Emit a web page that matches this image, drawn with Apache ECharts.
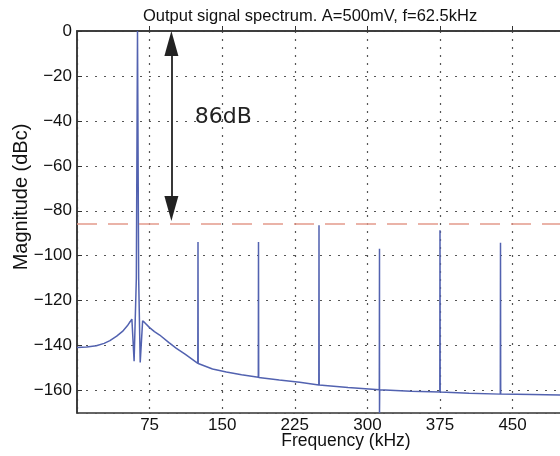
<!DOCTYPE html>
<html>
<head>
<meta charset="utf-8">
<script src="https://cdn.jsdelivr.net/npm/echarts@6/dist/echarts.min.js"></script>
<style>
html,body{margin:0;padding:0;background:#fff;}
#chart{width:560px;height:456px;}
</style>
</head>
<body>
<div id="chart"></div>
<script>
const chartTitle = 'Output signal spectrum. A=500mV, f=62.5kHz';
const xName = 'Frequency (kHz)';
const yName = 'Magnitude (dBc)';
const xTickStep = 75;
const yRange = [-170, 0];
const xRange = [0, 500];

// spectrum (frequency in kHz, magnitude in dBc)
const freqKHz = [0, 10, 20, 28, 34, 41, 47, 52, 55, 56.7, 59.0, 61.3, 62.5, 63.7, 65.3, 67.8, 70, 75, 80, 85.4, 95, 102.7, 112, 124.8, 125, 125.2, 140, 154.3, 170, 187.3, 187.5, 187.7, 209, 230, 249.8, 250, 250.2, 280, 312.3, 312.5, 312.5, 312.7, 345, 374.8, 375, 375.2, 405, 437.3, 437.5, 437.7, 470, 500];
const magDBc  = [-140.8, -140.6, -140.1, -139.0, -137.8, -135.8, -133.7, -131.2, -129.3, -128.2, -147.0, -110, 0, -110, -147.5, -129.0, -129.8, -132.0, -133.8, -135.3, -138.7, -141.2, -143.9, -147.9, -93.9, -148.0, -150.4, -151.8, -153.0, -154.1, -93.9, -154.2, -155.3, -156.3, -157.5, -86.5, -157.5, -158.7, -159.7, -96.9, -170, -159.7, -160.3, -160.7, -88.7, -160.7, -161.2, -161.6, -94.2, -161.6, -161.8, -162.0];

// annotation values
const sfdrLevel = -86;
const arrowFreq = 97.5;
const arrowEnds = [-5.6, -79.0];
const sfdrText = '86dB';
const sfdrTextPos = [121.6, -38.3];

const seriesData = freqKHz.map((f, i) => [f, magDBc[i]]);
const minus = s => String(s).replace('-', '\u2212');

const chart = echarts.init(document.getElementById('chart'), null, {renderer: 'canvas'});
chart.setOption({
  animation: false,
  backgroundColor: '#ffffff',
  title: {
    text: chartTitle,
    left: 143, top: 8, padding: 0,
    textStyle: {fontFamily: 'Liberation Sans', fontSize: 16.5, fontWeight: 'normal', color: '#111'}
  },
  grid: {
    left: 77, top: 31, width: 484, height: 382,
    show: true, borderColor: '#333', borderWidth: 1.5, backgroundColor: 'transparent',
    outerBoundsMode: 'none', containLabel: false
  },
  xAxis: {
    type: 'value', min: xRange[0], max: xRange[1], interval: xTickStep,
    name: xName, nameLocation: 'middle', nameGap: 19, nameMoveOverlap: false,
    nameTextStyle: {fontFamily: 'Liberation Sans', fontSize: 17.5, color: '#111', padding: [0, 0, 0, 54]},
    axisLine: {show: true, lineStyle: {color: '#333', width: 1.5}},
    axisTick: {show: true, inside: true, length: 5, lineStyle: {color: '#333'}},
    axisLabel: {showMinLabel: false, showMaxLabel: false, margin: 4, fontFamily: 'Liberation Sans', fontSize: 17, color: '#111'},
    splitLine: {show: true, lineStyle: {color: '#555', width: 1.2, type: [2, 6]}}
  },
  yAxis: {
    type: 'value', min: yRange[0], max: yRange[1], splitNumber: 9,
    name: yName, nameLocation: 'middle', nameGap: 46, nameMoveOverlap: false,
    nameTextStyle: {fontFamily: 'Liberation Sans', fontSize: 20, color: '#111', padding: [0, 0, 0, 50]},
    axisLine: {show: true, lineStyle: {color: '#333', width: 1.5}},
    axisTick: {show: true, inside: true, length: 5, lineStyle: {color: '#333'}},
    axisLabel: {showMinLabel: false, margin: 5, fontFamily: 'Liberation Sans', fontSize: 17, color: '#111',
      formatter: v => v === yRange[0] ? '' : minus(v)},
    splitLine: {show: true, lineStyle: {color: '#555', width: 1.2, type: [2, 7]}}
  },
  series: [{
    type: 'line',
    data: seriesData,
    showSymbol: false,
    symbol: 'none',
    clip: true,
    lineStyle: {color: '#5262b0', width: 1.5},
    markLine: {
      silent: true,
      animation: false,
      symbol: ['none', 'none'],
      label: {show: false},
      data: [
        [{coord: [arrowFreq, arrowEnds[0]], symbol: 'triangle', symbolSize: [14, 25],
          lineStyle: {color: '#222', width: 1.8, type: 'solid'}},
         {coord: [arrowFreq, arrowEnds[1]], symbol: 'triangle', symbolSize: [14, 25]}],
        {yAxis: sfdrLevel,
          lineStyle: {color: '#e39a8c', width: 1.6, type: [20, 11]}}
      ]
    },
    markPoint: {
      silent: true,
      animation: false,
      symbol: 'circle', symbolSize: 0,
      data: [{coord: sfdrTextPos, value: 86}],
      label: {show: true, position: 'right', distance: 0, formatter: sfdrText,
        fontFamily: 'DejaVu Sans', fontSize: 22, color: '#222'}
    }
  }]
});
</script>
</body>
</html>
